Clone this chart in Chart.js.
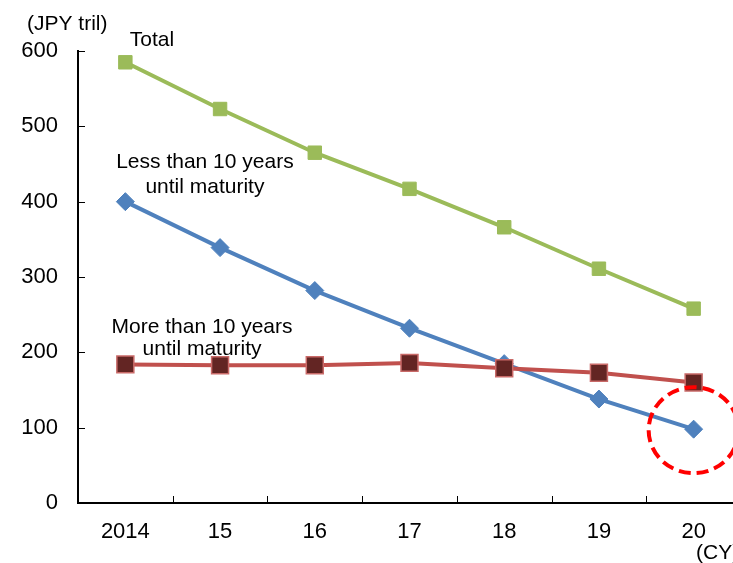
<!DOCTYPE html>
<html>
<head>
<meta charset="utf-8">
<script src="https://cdn.jsdelivr.net/npm/chart.js@4/dist/chart.umd.min.js"></script>
<style>
  html, body { margin: 0; padding: 0; background: #fff; overflow: hidden; }
  #wrap { width: 760px; height: 563px; }
</style>
</head>
<body>
<div id="wrap"><canvas id="c" width="760" height="563"></canvas></div>
<script>
// Outstanding JGB holdings by remaining maturity (JPY trillion)
const years = ['2014', '15', '16', '17', '18', '19', '20'];
const total = [585, 523, 465, 417, 366, 311, 258];
const lessThan10 = [400, 339, 282, 232, 185, 138, 98];
const moreThan10 = [184, 183, 183, 186, 179, 173, 160];
const yTicks = [0, 100, 200, 300, 400, 500, 600];

const FONT = "'Liberation Sans', Arial, Helvetica, sans-serif";

// Inward tick marks, series captions, unit labels and the highlight ring
const decorations = {
  id: 'decorations',
  afterDraw(chart) {
    const ctx = chart.ctx;
    const x = chart.scales.x, y = chart.scales.y;
    const area = chart.chartArea;
    ctx.save();
    ctx.strokeStyle = '#000';
    ctx.lineWidth = 1;
    ctx.beginPath();
    // y ticks pointing into the plot
    yTicks.forEach(v => {
      const py = Math.round(y.getPixelForValue(v)) + 0.5;
      ctx.moveTo(area.left, py);
      ctx.lineTo(area.left + 7, py);
    });
    // x ticks between categories, pointing up
    for (let i = 1; i < years.length; i++) {
      const px = Math.round((x.getPixelForValue(i - 1) + x.getPixelForValue(i)) / 2) + 0.5;
      ctx.moveTo(px, area.bottom);
      ctx.lineTo(px, area.bottom - 7);
    }
    ctx.stroke();

    ctx.fillStyle = '#000';
    ctx.textBaseline = 'alphabetic';
    ctx.font = '21px ' + FONT;
    ctx.textAlign = 'left';
    ctx.fillText('(JPY tril)', 27, 30);
    ctx.fillText('(CY)', 696, 559);

    ctx.textAlign = 'center';
    const cx = (i) => x.getPixelForValue(i);
    const cy = (v) => y.getPixelForValue(v);
    ctx.fillText('Total', cx(0.28), cy(607));
    ctx.fillText('Less than 10 years', cx(0.84), cy(445));
    ctx.fillText('until maturity', cx(0.84), cy(412));
    ctx.fillText('More than 10 years', cx(0.81), cy(226));
    ctx.fillText('until maturity', cx(0.81), cy(196));

    // dashed ring around the latest short-maturity value
    const last = lessThan10.length - 1;
    ctx.strokeStyle = '#ff0000';
    ctx.lineWidth = 4;
    ctx.setLineDash([12, 6]);
    ctx.beginPath();
    ctx.ellipse(cx(last), cy(lessThan10[last]) + 1, 45, 43, 0, 0, Math.PI * 2);
    ctx.stroke();
    ctx.restore();
  }
};

new Chart(document.getElementById('c'), {
  type: 'line',
  data: {
    labels: years,
    datasets: [
      {
        label: 'More than 10 years until maturity',
        data: moreThan10,
        borderColor: '#C0504D',
        borderWidth: 4,
        pointStyle: 'rect',
        pointRadius: 12,
        pointBackgroundColor: '#632523',
        pointBorderColor: '#C96A68',
        pointBorderWidth: 1.5,
        tension: 0
      },
      {
        label: 'Less than 10 years until maturity',
        data: lessThan10,
        borderColor: '#4F81BD',
        borderWidth: 4,
        pointStyle: 'rectRot',
        pointRadius: 9,
        pointBackgroundColor: '#4F81BD',
        pointBorderColor: '#4F81BD',
        pointBorderWidth: 1,
        tension: 0
      },
      {
        label: 'Total',
        data: total,
        borderColor: '#9BBB59',
        borderWidth: 4,
        pointStyle: 'rect',
        pointRadius: 9.5,
        pointBackgroundColor: '#9BBB59',
        pointBorderColor: '#9BBB59',
        pointBorderWidth: 1,
        tension: 0
      }
    ]
  },
  options: {
    responsive: false,
    animation: false,
    devicePixelRatio: 1,
    layout: { padding: { left: 0, top: 51, right: 19, bottom: 0 } },
    plugins: { legend: { display: false }, tooltip: { enabled: false } },
    scales: {
      x: {
        offset: true,
        grid: { display: false, drawTicks: false, offset: true },
        border: { display: true, color: '#000', width: 2 },
        ticks: { color: '#000', font: { family: FONT, size: 22 }, padding: 16, maxRotation: 0, autoSkip: false },
        afterFit(s) { s.height = 60; }
      },
      y: {
        min: 0, max: 600,
        grid: { display: false, drawTicks: false },
        border: { display: true, color: '#000', width: 2 },
        ticks: { color: '#000', font: { family: FONT, size: 22 }, padding: 20, stepSize: 100 },
        afterFit(s) { s.width = 78; }
      }
    }
  },
  plugins: [decorations]
});
</script>
</body>
</html>
